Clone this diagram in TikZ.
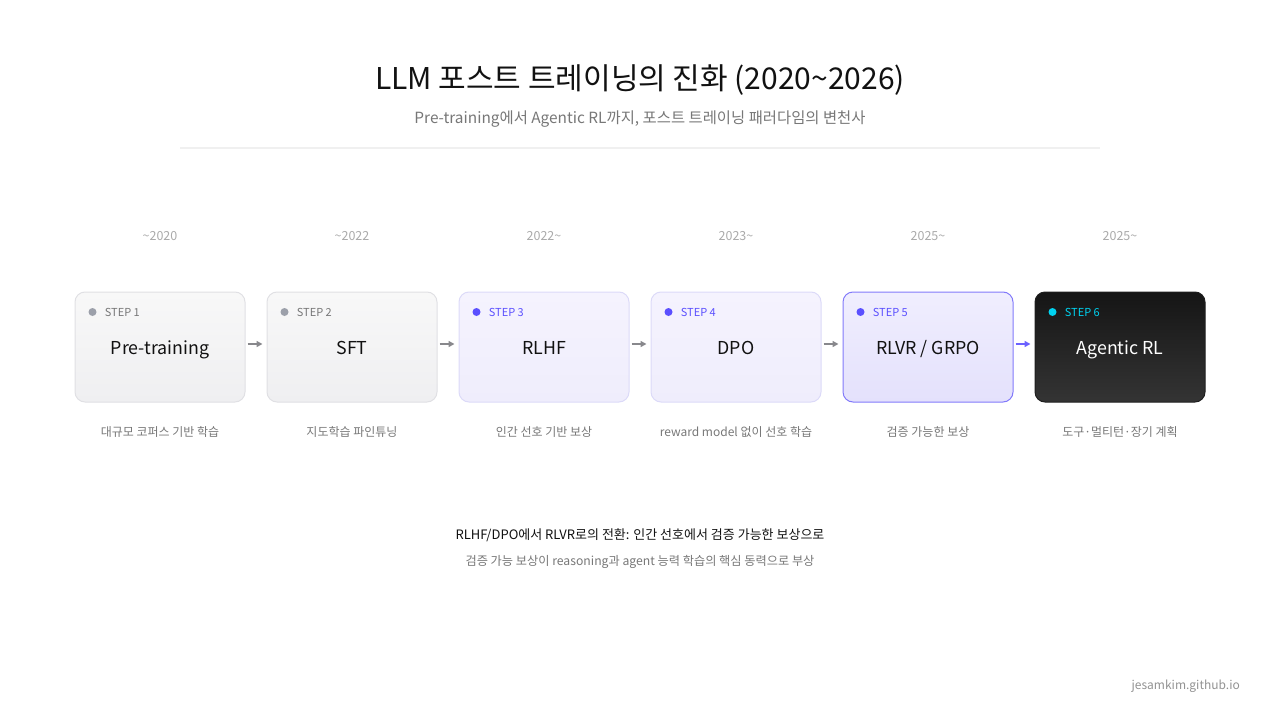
\documentclass[tikz,border=0pt]{standalone}
\usepackage{fontspec}
\setmainfont{Noto Sans CJK KR}
\usetikzlibrary{arrows.meta,positioning}
\definecolor{ink}{HTML}{111111}
\definecolor{mute}{HTML}{777777}
\definecolor{faint}{HTML}{AAAAAA}
\definecolor{violet}{HTML}{5B50FF}
\definecolor{cyanish}{HTML}{00D2F0}
\definecolor{greydot}{HTML}{9CA0AA}
\definecolor{rule}{HTML}{F0F0F0}
\definecolor{arrowgrey}{HTML}{88888C}
\definecolor{plainedge}{HTML}{E0E0E4}
\definecolor{plaintop}{HTML}{F8F8F8}
\definecolor{plainbot}{HTML}{EFEFF1}
\definecolor{softedge}{HTML}{DCDAF8}
\definecolor{softtop}{HTML}{F5F3FE}
\definecolor{softbot}{HTML}{EFEDFC}
\definecolor{hotedge}{HTML}{827AFA}
\definecolor{hottop}{HTML}{F0EEFE}
\definecolor{hotbot}{HTML}{E4E1FC}
\definecolor{darkedge}{HTML}{1E1E1E}
\definecolor{darktop}{HTML}{151515}
\definecolor{darkbot}{HTML}{343434}
\tikzset{
  stepbox/.style={minimum width=170pt, minimum height=110pt, rounded corners=10pt, line width=1pt},
  plainbox/.style={stepbox, draw=plainedge, top color=plaintop, bottom color=plainbot},
  softbox/.style={stepbox, draw=softedge, top color=softtop, bottom color=softbot},
  hotbox/.style={stepbox, draw=hotedge, top color=hottop, bottom color=hotbot},
  darkbox/.style={stepbox, draw=darkedge, top color=darktop, bottom color=darkbot},
  dot/.style={circle, inner sep=0pt, minimum size=8pt},
  flow/.style={-{Triangle[length=6pt,width=6pt]}, line width=1.5pt, shorten <=2pt, shorten >=4pt}
}
\begin{document}
\begin{tikzpicture}[x=1pt,y=-1pt]
\useasboundingbox (0,0) rectangle (1280,720);
% title block
\node[text=ink, font=\fontsize{30}{35}\selectfont] (title) at (640,80) {LLM 포스트 트레이닝의 진화 (2020\textasciitilde2026)};
\node[text=mute, font=\fontsize{15.4}{18}\selectfont] (subtitle) at (640,119) {Pre-training에서 Agentic RL까지, 포스트 트레이닝 패러다임의 변천사};
\draw[line width=2pt, rule] (180,148) -- (1100,148);
% steps
\foreach \i/\x/\sty/\dc/\tc/\nc/\name/\year/\desc in {
  1/160/plainbox/greydot/mute/ink/Pre-training/\textasciitilde2020/대규모 코퍼스 기반 학습,
  2/352/plainbox/greydot/mute/ink/SFT/\textasciitilde2022/지도학습 파인튜닝,
  3/544/softbox/violet/violet/ink/RLHF/2022\textasciitilde/인간 선호 기반 보상,
  4/736/softbox/violet/violet/ink/DPO/2023\textasciitilde/reward model 없이 선호 학습,
  5/928/hotbox/violet/violet/ink/{RLVR / GRPO}/2025\textasciitilde/검증 가능한 보상,
  6/1120/darkbox/cyanish/cyanish/white/Agentic RL/2025\textasciitilde/도구·멀티턴·장기 계획} {
  \node[\sty] (s\i) at (\x,347) {};
  \node[dot, fill=\dc] (d\i) at ([xshift=18pt,yshift=-20.5pt]s\i.north west) {};
  \node[right=8pt of d\i, inner sep=0pt, text=\tc, font=\fontsize{11}{12}\selectfont] (k\i) {STEP \i};
  \node[anchor=base, inner sep=0pt, text=\nc, font=\fontsize{17.8}{20}\selectfont] (n\i) at (\x,354) {\name};
  \node[text=faint, font=\fontsize{12.5}{14}\selectfont] (y\i) at (\x,236) {\year};
  \node[text=mute, font=\fontsize{12}{14}\selectfont] (t\i) at (\x,432) {\desc};
}
% connectors
\foreach \a/\b in {1/2,2/3,3/4,4/5} {
  \draw[flow, arrowgrey] ([yshift=3pt]s\a.east) -- ([yshift=3pt]s\b.west);
}
\draw[flow, violet!90] ([yshift=3pt]s5.east) -- ([yshift=3pt]s6.west);
% takeaway
\node[text=ink, font=\fontsize{13}{15}\selectfont] (note) at (640,535) {RLHF/DPO에서 RLVR로의 전환: 인간 선호에서 검증 가능한 보상으로};
\node[text=mute, font=\fontsize{12.2}{14}\selectfont] (subnote) at (640,561.5) {검증 가능 보상이 reasoning과 agent 능력 학습의 핵심 동력으로 부상};
\node[anchor=east, inner sep=0pt, text=mute!80, font=\fontsize{12}{14}\selectfont] (credit) at (1240,686) {jesamkim.github.io};
\end{tikzpicture}
\end{document}
